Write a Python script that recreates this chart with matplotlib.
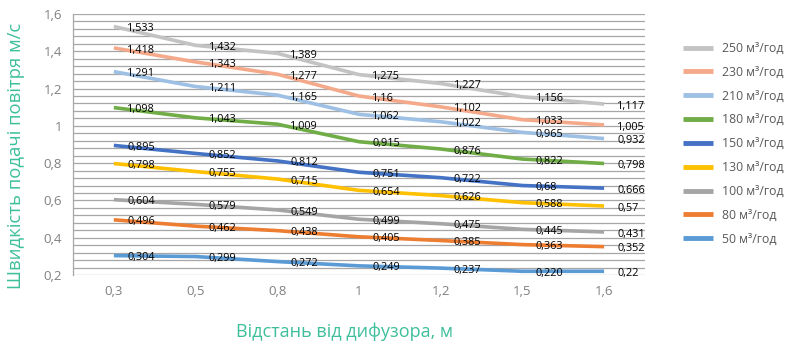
import matplotlib
matplotlib.use("Agg")
import matplotlib.pyplot as plt

plt.rcParams['font.family'] = ['Open Sans', 'DejaVu Sans']

# distances (categories)
distances = ["0,3", "0,5", "0,8", "1", "1,2", "1,5", "1,6"]

# air flow series, top to bottom as in legend
flows = ["250 м³/год", "230 м³/год", "210 м³/год", "180 м³/год", "150 м³/год",
         "130 м³/год", "100 м³/год", "80 м³/год", "50 м³/год"]

v250 = [1.533, 1.432, 1.389, 1.275, 1.227, 1.156, 1.117]
v230 = [1.418, 1.343, 1.277, 1.16, 1.102, 1.033, 1.005]
v210 = [1.291, 1.211, 1.165, 1.062, 1.022, 0.965, 0.932]
v180 = [1.098, 1.043, 1.009, 0.915, 0.876, 0.822, 0.798]
v150 = [0.895, 0.852, 0.812, 0.751, 0.722, 0.68, 0.666]
v130 = [0.798, 0.755, 0.715, 0.654, 0.626, 0.588, 0.57]
v100 = [0.604, 0.579, 0.549, 0.499, 0.475, 0.445, 0.431]
v80 = [0.496, 0.462, 0.438, 0.405, 0.385, 0.363, 0.352]
v50 = [0.304, 0.299, 0.272, 0.249, 0.237, 0.220, 0.22]

values = [v250, v230, v210, v180, v150, v130, v100, v80, v50]
colors = ["#C3C3C3", "#F4A98A", "#9DC0E4", "#70AD47", "#4472C4",
          "#FFC000", "#A5A5A5", "#ED7D31", "#5B9BD5"]

# labels shown exactly as in the source chart where formatting differs
label_override = {(8, 5): "0,220"}

teal = "#3DBF9B"

fig = plt.figure(figsize=(7.9, 3.46), dpi=100)
ax = fig.add_axes([0.0924, 0.2052, 0.724, 0.7543])

x = list(range(len(distances)))
for i, (vals, name, col) in enumerate(zip(values, flows, colors)):
    ax.plot(x, vals, color=col, lw=2.6, label=name, solid_capstyle='butt', zorder=3)
    for j, v in enumerate(vals):
        txt = label_override.get((i, j), f"{v:g}".replace(".", ","))
        ax.annotate(txt, (j, v), xytext=(9.5, -1.5), textcoords='offset points',
                    ha='left', va='center', fontsize=7.8, color='black', zorder=4)

ax.set_xlim(-0.5, len(distances) - 0.5)
ax.set_ylim(0.2, 1.6)
ax.set_xticks(x)
ax.set_xticklabels(distances)
ax.set_yticks([0.2, 0.4, 0.6, 0.8, 1.0, 1.2, 1.4, 1.6])
ax.set_yticklabels(["0,2", "0,4", "0,6", "0,8", "1", "1,2", "1,4", "1,6"])
ax.set_yticks([0.2 + 0.04 * k for k in range(36)], minor=True)
ax.grid(True, which='both', axis='y', color='#A6A6A6', lw=0.9)
ax.set_axisbelow(True)
ax.tick_params(axis='both', which='both', length=0, colors='#808080', labelsize=9.5)
ax.tick_params(axis='x', pad=7)
ax.tick_params(axis='y', pad=8)

for s in ['top', 'right', 'bottom']:
    ax.spines[s].set_visible(False)
ax.spines['left'].set_color('#A6A6A6')
ax.spines['left'].set_linewidth(0.9)

# axis titles placed in figure coordinates
fig.text(0.4355, 0.04, "Відстань від дифузора, м", color=teal, fontsize=13,
         ha='center', va='center')
fig.text(0.02, 0.55, "Швидкість подачі повітря м/с", color=teal, fontsize=13.3,
         ha='center', va='center', rotation=90)

leg = ax.legend(loc='upper left', bbox_to_anchor=(1.058, 0.912), frameon=False,
                fontsize=8.8, handlelength=2.45, handletextpad=0.74, labelspacing=0.886,
                borderaxespad=0)
for t in leg.get_texts():
    t.set_color('#595959')
for h in leg.get_lines():
    h.set_linewidth(3.5)

fig.savefig("out.png", dpi=100)
